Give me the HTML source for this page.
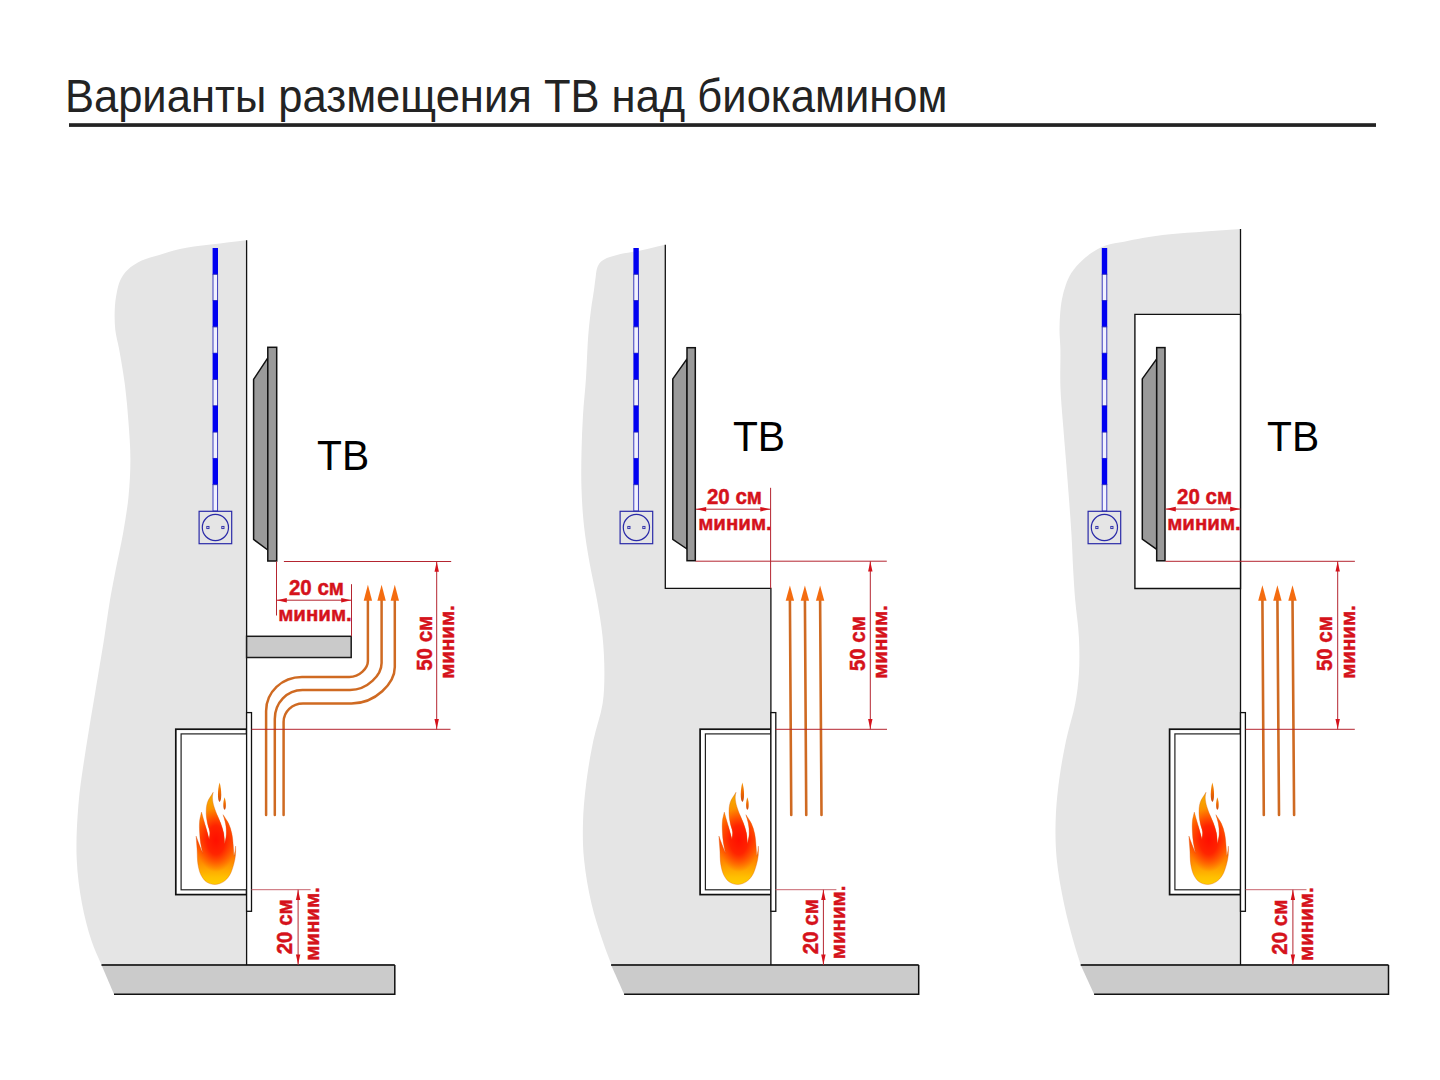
<!DOCTYPE html>
<html><head><meta charset="utf-8"><title>Варианты размещения ТВ над биокамином</title>
<style>html,body{margin:0;padding:0;background:#fff;width:1440px;height:1080px;overflow:hidden;font-family:"Liberation Sans",sans-serif;}svg{display:block}</style>
</head><body>
<svg width="1440" height="1080" viewBox="0 0 1440 1080">
<defs>
<linearGradient id="fg" gradientUnits="userSpaceOnUse" x1="0" y1="783" x2="0" y2="884.4">
<stop offset="0" stop-color="#e88a00"/>
<stop offset="0.089" stop-color="#f0a800"/>
<stop offset="0.2" stop-color="#f8a000"/>
<stop offset="0.32" stop-color="#ff8000"/>
<stop offset="0.44" stop-color="#ff6000"/>
<stop offset="0.56" stop-color="#ff4a00"/>
<stop offset="0.68" stop-color="#ff6a00"/>
<stop offset="0.78" stop-color="#ff8a00"/>
<stop offset="0.86" stop-color="#ffa800"/>
<stop offset="0.93" stop-color="#ffc000"/>
<stop offset="1" stop-color="#ffcc00"/>
</linearGradient>
<radialGradient id="fr" gradientUnits="userSpaceOnUse" cx="216" cy="840" r="20" gradientTransform="translate(216 840) scale(1 1.6) translate(-216 -840)">
<stop offset="0" stop-color="#ff1000" stop-opacity="1"/>
<stop offset="0.45" stop-color="#ff1800" stop-opacity="0.85"/>
<stop offset="1" stop-color="#ff3000" stop-opacity="0"/>
</radialGradient>
<linearGradient id="dg" x1="0" y1="0" x2="0" y2="1">
<stop offset="0" stop-color="#f29a10"/>
<stop offset="0.5" stop-color="#f06a00"/>
<stop offset="1" stop-color="#c84a10"/>
</linearGradient>
</defs>
<text transform="translate(64.9 111.7) scale(1 1.055)" font-family="Liberation Sans" font-size="43.55" fill="#232323">Варианты размещения ТВ над биокамином</text>
<rect x="69" y="123.2" width="1307" height="3.7" fill="#232323"/>
<path d="M246.6 240.3 C224.4 243.2 195.8 245.7 180 249 C171.05 250.87 165.91 252.99 159.3 255 C153.18 256.86 147.06 258.04 141.7 260.6 C136.61 263.04 131.47 266.28 127.8 269.8 C124.61 272.86 122.24 276.21 120.4 280 C118.49 283.92 117.62 288.42 116.7 293 C115.7 297.95 115.07 303.06 114.8 308.7 C114.48 315.25 114.54 323.18 115.3 330 C116.01 336.42 117.69 341.26 119 348.5 C120.85 358.7 123.42 373.13 125 385.5 C126.58 397.83 127.6 410.23 128.5 422.6 C129.4 434.93 130.4 447.26 130.4 459.6 C130.4 471.96 129.73 484.37 128.5 496.7 C127.27 509.07 125.16 521.39 123 533.7 C120.83 546.06 117.77 559.08 115.5 570.7 C113.48 581.03 111.75 589.65 110 600 C108.03 611.6 106.55 623.42 104.4 637 C101.76 653.66 98.27 674.08 95.2 692.6 C92.14 711.08 88.78 729.49 86 748 C83.22 766.52 80.05 785.13 78.5 803.7 C76.96 822.13 75.95 841.57 76.7 859 C77.37 874.72 79.36 889.59 82 903.7 C84.43 916.7 87.87 929.77 91.5 940.7 C94.51 949.77 98.17 956.9 101.5 965 L246.6 965 L246.6 240.3 Z" fill="#e5e5e5"/>
<path d="M665.3 244.8 C660 246 654.83 247.21 649.4 248.4 C643.71 249.65 637.5 250.98 631.9 252.1 C626.74 253.13 621.46 253.78 617 254.9 C613.28 255.84 609.82 256.73 606.9 258.1 C604.41 259.27 602.05 260.53 600.4 262.3 C598.85 263.97 597.88 266.06 597.1 268.3 C596.23 270.8 596.17 273.54 595.7 276.7 C595.1 280.75 594.6 285.64 593.9 290.6 C593.1 296.33 591.97 302.41 591.1 309.1 C590.08 317 589.09 325.27 588.3 335 C587.29 347.51 586.93 364.21 586 378 C585.14 390.8 583.75 402.66 583 415 C582.25 427.33 581.75 439.66 581.5 452 C581.25 464.33 581.08 476.67 581.5 489 C581.92 501.34 582.66 513.69 584 526 C585.35 538.36 587.44 550.69 589.6 563 C591.77 575.36 594.83 587.64 597 600 C599.16 612.31 601.37 624.64 602.6 637 C603.83 649.3 604.47 662.35 604.4 674 C604.34 684.45 604.2 693.33 602.6 703.7 C600.79 715.44 595.99 727.75 593.3 740.7 C590.38 754.74 587.73 770.86 586 785 C584.42 797.85 583.33 809.66 583 822 C582.67 834.32 582.75 846.13 584 859 C585.38 873.24 588.22 889.6 591.5 903.7 C594.53 916.72 598.94 929.71 602.6 940.7 C605.59 949.7 608.53 956.9 611.5 965 L770.9 965 L770.9 588.4 L665.3 588.4 L665.3 244.8 Z" fill="#e5e5e5"/>
<path d="M1240.5 229 C1228.67 229.83 1216.79 230.61 1205 231.5 C1193.29 232.38 1180.94 233.12 1170 234.3 C1160.29 235.34 1150.82 236.62 1142.6 238 C1135.81 239.14 1130.27 240.47 1124.1 241.7 C1117.93 242.93 1111.19 243.4 1105.6 245.4 C1100.49 247.23 1095.94 249.96 1091.7 252.8 C1087.64 255.52 1084 258.62 1080.6 262 C1077.2 265.39 1073.81 269.14 1071.3 273.1 C1068.89 276.9 1067.23 280.97 1065.7 285.2 C1064.11 289.58 1062.92 294.35 1062 299 C1061.09 303.62 1060.62 308.1 1060.2 313 C1059.74 318.38 1059.49 324.13 1059.5 330 C1059.51 336.3 1060.23 342.03 1060.4 349.6 C1060.64 360.01 1059.97 374.35 1060.4 386.7 C1060.83 399.05 1062.07 411.37 1063 423.7 C1063.93 436.04 1065.02 448.36 1066 460.7 C1066.98 473.06 1067.98 485.44 1068.9 497.8 C1069.82 510.14 1070.77 522.45 1071.5 534.8 C1072.23 547.15 1072.63 560.39 1073.3 571.9 C1073.88 581.92 1074.36 590 1075.2 600 C1076.16 611.49 1078.28 624.65 1078.9 637 C1079.51 649.32 1079.62 662.36 1078.9 674 C1078.25 684.46 1077.13 693.32 1075.2 703.7 C1073.02 715.42 1068.7 727.76 1066 740.7 C1063.07 754.75 1060.25 770.86 1058.5 785 C1056.91 797.85 1055.9 809.66 1055.6 822 C1055.3 834.33 1055.46 846.13 1056.7 859 C1058.07 873.24 1061.07 889.56 1064 903.7 C1066.69 916.68 1070.24 929.69 1073.3 940.7 C1075.79 949.68 1078.23 956.9 1080.7 965 L1240.5 965 L1240.5 229 Z" fill="#e5e5e5"/>
<path d="M101.5 965 L394.8 965 L394.8 994.2 L114 994.2 Z" fill="#cbcbcb"/>
<path d="M101.5 965 L394.8 965" stroke="#333" stroke-width="1.8"/>
<path d="M114 994.2 L394.8 994.2 L394.8 965" stroke="#111" stroke-width="1.5" fill="none"/>
<path d="M611.1 965 L918.7 965 L918.7 994.2 L624.1 994.2 Z" fill="#cbcbcb"/>
<path d="M611.1 965 L918.7 965" stroke="#333" stroke-width="1.8"/>
<path d="M624.1 994.2 L918.7 994.2 L918.7 965" stroke="#111" stroke-width="1.5" fill="none"/>
<path d="M1080.7 965 L1388.5 965 L1388.5 994.2 L1094.1 994.2 Z" fill="#cbcbcb"/>
<path d="M1080.7 965 L1388.5 965" stroke="#333" stroke-width="1.8"/>
<path d="M1094.1 994.2 L1388.5 994.2 L1388.5 965" stroke="#111" stroke-width="1.5" fill="none"/>
<path d="M246.6 240.3 L246.6 965" stroke="#111" stroke-width="1.3"/>
<path d="M665.3 244.8 L665.3 588.4 L770.9 588.4 L770.9 965" stroke="#111" stroke-width="1.3" fill="none"/>
<path d="M1240.5 229 L1240.5 965" stroke="#111" stroke-width="1.3"/>
<path d="M1240.5 314.4 L1134.9 314.4 L1134.9 588.5 L1240.5 588.5 Z" fill="#fff" stroke="#111" stroke-width="1.4"/>
<rect x="212.6" y="248" width="5.4" height="26.6" fill="#0000f0"/>
<rect x="213" y="274.3" width="4.6" height="26.3" fill="#f2f2ff" stroke="#2a2ab8" stroke-width="0.9"/>
<rect x="212.6" y="300.6" width="5.4" height="26.6" fill="#0000f0"/>
<rect x="213" y="326.9" width="4.6" height="26.3" fill="#f2f2ff" stroke="#2a2ab8" stroke-width="0.9"/>
<rect x="212.6" y="353.2" width="5.4" height="26.6" fill="#0000f0"/>
<rect x="213" y="379.5" width="4.6" height="26.3" fill="#f2f2ff" stroke="#2a2ab8" stroke-width="0.9"/>
<rect x="212.6" y="405.8" width="5.4" height="26.6" fill="#0000f0"/>
<rect x="213" y="432.1" width="4.6" height="26.3" fill="#f2f2ff" stroke="#2a2ab8" stroke-width="0.9"/>
<rect x="212.6" y="458.4" width="5.4" height="26.6" fill="#0000f0"/>
<rect x="213" y="484.7" width="4.6" height="26.3" fill="#f2f2ff" stroke="#2a2ab8" stroke-width="0.9"/>
<rect x="199.1" y="511.3" width="32.6" height="32.4" fill="none" stroke="#2a2aa8" stroke-width="1.2"/>
<circle cx="215.4" cy="527.5" r="13.1" fill="none" stroke="#2a2aa8" stroke-width="1.2"/>
<rect x="206.8" y="526.4" width="2.2" height="2.2" fill="none" stroke="#2a2aa8" stroke-width="0.9"/>
<rect x="221.8" y="526.4" width="2.2" height="2.2" fill="none" stroke="#2a2aa8" stroke-width="0.9"/>
<rect x="633.4" y="248" width="5.4" height="26.6" fill="#0000f0"/>
<rect x="633.8" y="274.3" width="4.6" height="26.3" fill="#f2f2ff" stroke="#2a2ab8" stroke-width="0.9"/>
<rect x="633.4" y="300.6" width="5.4" height="26.6" fill="#0000f0"/>
<rect x="633.8" y="326.9" width="4.6" height="26.3" fill="#f2f2ff" stroke="#2a2ab8" stroke-width="0.9"/>
<rect x="633.4" y="353.2" width="5.4" height="26.6" fill="#0000f0"/>
<rect x="633.8" y="379.5" width="4.6" height="26.3" fill="#f2f2ff" stroke="#2a2ab8" stroke-width="0.9"/>
<rect x="633.4" y="405.8" width="5.4" height="26.6" fill="#0000f0"/>
<rect x="633.8" y="432.1" width="4.6" height="26.3" fill="#f2f2ff" stroke="#2a2ab8" stroke-width="0.9"/>
<rect x="633.4" y="458.4" width="5.4" height="26.6" fill="#0000f0"/>
<rect x="633.8" y="484.7" width="4.6" height="26.3" fill="#f2f2ff" stroke="#2a2ab8" stroke-width="0.9"/>
<rect x="620.1" y="511.3" width="32.6" height="32.4" fill="none" stroke="#2a2aa8" stroke-width="1.2"/>
<circle cx="636.4" cy="527.5" r="13.1" fill="none" stroke="#2a2aa8" stroke-width="1.2"/>
<rect x="627.8" y="526.4" width="2.2" height="2.2" fill="none" stroke="#2a2aa8" stroke-width="0.9"/>
<rect x="642.8" y="526.4" width="2.2" height="2.2" fill="none" stroke="#2a2aa8" stroke-width="0.9"/>
<rect x="1101.8" y="248" width="5.4" height="26.6" fill="#0000f0"/>
<rect x="1102.2" y="274.3" width="4.6" height="26.3" fill="#f2f2ff" stroke="#2a2ab8" stroke-width="0.9"/>
<rect x="1101.8" y="300.6" width="5.4" height="26.6" fill="#0000f0"/>
<rect x="1102.2" y="326.9" width="4.6" height="26.3" fill="#f2f2ff" stroke="#2a2ab8" stroke-width="0.9"/>
<rect x="1101.8" y="353.2" width="5.4" height="26.6" fill="#0000f0"/>
<rect x="1102.2" y="379.5" width="4.6" height="26.3" fill="#f2f2ff" stroke="#2a2ab8" stroke-width="0.9"/>
<rect x="1101.8" y="405.8" width="5.4" height="26.6" fill="#0000f0"/>
<rect x="1102.2" y="432.1" width="4.6" height="26.3" fill="#f2f2ff" stroke="#2a2ab8" stroke-width="0.9"/>
<rect x="1101.8" y="458.4" width="5.4" height="26.6" fill="#0000f0"/>
<rect x="1102.2" y="484.7" width="4.6" height="26.3" fill="#f2f2ff" stroke="#2a2ab8" stroke-width="0.9"/>
<rect x="1088.1" y="511.3" width="32.6" height="32.4" fill="none" stroke="#2a2aa8" stroke-width="1.2"/>
<circle cx="1104.4" cy="527.5" r="13.1" fill="none" stroke="#2a2aa8" stroke-width="1.2"/>
<rect x="1095.8" y="526.4" width="2.2" height="2.2" fill="none" stroke="#2a2aa8" stroke-width="0.9"/>
<rect x="1110.8" y="526.4" width="2.2" height="2.2" fill="none" stroke="#2a2aa8" stroke-width="0.9"/>
<path d="M267.8 357.8 L253.6 379.4 L253.6 539.4 L267.8 550 Z" fill="#9a9a9a" stroke="#111" stroke-width="1.5" stroke-linejoin="round"/>
<rect x="267.8" y="347.3" width="8.9" height="213.7" fill="#9a9a9a" stroke="#111" stroke-width="1.5"/>
<path d="M687 358.9 L672.8 378.9 L672.8 539.4 L687 549 Z" fill="#9a9a9a" stroke="#111" stroke-width="1.5" stroke-linejoin="round"/>
<rect x="687" y="347.7" width="8.3" height="213" fill="#9a9a9a" stroke="#111" stroke-width="1.5"/>
<path d="M1156.7 358.9 L1142.3 378.9 L1142.3 539.2 L1156.7 549.4 Z" fill="#9a9a9a" stroke="#111" stroke-width="1.5" stroke-linejoin="round"/>
<rect x="1156.7" y="347.6" width="8.3" height="213.2" fill="#9a9a9a" stroke="#111" stroke-width="1.5"/>
<text transform="translate(317 469.9) scale(1 1.06)" font-family="Liberation Sans" font-size="40.8" fill="#000">ТВ</text>
<text transform="translate(732.9 450.8) scale(1 1.06)" font-family="Liberation Sans" font-size="40.8" fill="#000">ТВ</text>
<text transform="translate(1267.1 450.8) scale(1 1.06)" font-family="Liberation Sans" font-size="40.8" fill="#000">ТВ</text>
<rect x="246.6" y="636.3" width="104.6" height="21.2" fill="#cacaca" stroke="#1a1a1a" stroke-width="1.5"/>
<rect x="175.8" y="729.2" width="70.8" height="165.4" fill="#fff" stroke="#111" stroke-width="1.7"/>
<rect x="181.1" y="733.9" width="65.5" height="155.9" fill="#fff" stroke="#222" stroke-width="1.2"/>
<rect x="246.6" y="712.6" width="4.9" height="198.7" fill="#fff" stroke="#111" stroke-width="1.3"/>
<rect x="700.1" y="729.2" width="70.8" height="165.4" fill="#fff" stroke="#111" stroke-width="1.7"/>
<rect x="705.4" y="733.9" width="65.5" height="155.9" fill="#fff" stroke="#222" stroke-width="1.2"/>
<rect x="770.9" y="712.6" width="4.9" height="198.7" fill="#fff" stroke="#111" stroke-width="1.3"/>
<rect x="1169.6" y="729.2" width="70.9" height="165.4" fill="#fff" stroke="#111" stroke-width="1.7"/>
<rect x="1174.9" y="733.9" width="65.6" height="155.9" fill="#fff" stroke="#222" stroke-width="1.2"/>
<rect x="1240.5" y="712.6" width="4.9" height="198.7" fill="#fff" stroke="#111" stroke-width="1.3"/>
<g transform="translate(0 0)">
<path d="M196.1 836.1 C197.13 838.9 198.1 841.68 199.2 844.5 C200.33 847.41 201.6 850.37 202.8 853.3 C202.07 849.87 201.13 846.51 200.6 843 C200.06 839.41 199.77 835.67 199.6 832 C199.43 828.34 199.24 824.45 199.6 821 C199.93 817.86 200.87 815.07 201.5 812.1 C202.13 814.4 202.68 816.46 203.4 819 C204.3 822.14 205.52 826.05 206.5 829.5 C207.45 832.84 208.3 836.1 209.2 839.4 C209.4 836.93 210.03 834.51 209.8 832 C209.56 829.32 208.19 826.7 207.6 823.8 C206.95 820.6 206.25 817.07 206.2 813.6 C206.15 809.98 206.27 806.01 207.4 802.5 C208.56 798.9 211.27 795.7 213.2 792.3 C212.93 793.87 212.43 795.25 212.4 797 C212.36 799.21 212.79 801.9 213.4 804.5 C214.1 807.47 215.41 810.73 216.6 813.8 C217.8 816.9 219.44 819.83 220.6 823 C221.78 826.23 222.92 829.56 223.6 833 C224.3 836.52 224.33 840.27 224.7 843.9 C225.27 840.6 226.25 837.33 226.4 834 C226.55 830.63 226.17 827.08 225.6 823.8 C225.05 820.65 223.93 817.73 223.1 814.7 C224.93 817.67 227.15 820.46 228.6 823.6 C230.05 826.73 231.04 830.04 231.8 833.5 C232.6 837.15 232.85 841.2 233.2 845 C233.54 848.73 233.67 852.4 233.9 856.1 C234.3 854.4 234.82 852.69 235.1 851 C235.38 849.36 235.43 847.73 235.6 846.1 C235.57 849.07 235.79 852.04 235.5 855 C235.2 858 234.67 860.88 233.8 864 C232.8 867.57 231.52 872.11 229.6 875.2 C227.93 877.89 225.85 880.25 223.4 881.8 C220.98 883.33 217.8 884.47 215 884.5 C212.2 884.53 208.93 883.57 206.6 882 C204.25 880.42 202.42 877.76 201 875 C199.4 871.88 198.56 867.93 197.9 864 C197.17 859.65 197.4 854.66 197.1 850 C196.8 845.36 196.43 840.73 196.1 836.1 Z" fill="url(#fg)" stroke="#d85a10" stroke-opacity="0.55" stroke-width="0.6"/>
<path d="M196.1 836.1 C197.13 838.9 198.1 841.68 199.2 844.5 C200.33 847.41 201.6 850.37 202.8 853.3 C202.07 849.87 201.13 846.51 200.6 843 C200.06 839.41 199.77 835.67 199.6 832 C199.43 828.34 199.24 824.45 199.6 821 C199.93 817.86 200.87 815.07 201.5 812.1 C202.13 814.4 202.68 816.46 203.4 819 C204.3 822.14 205.52 826.05 206.5 829.5 C207.45 832.84 208.3 836.1 209.2 839.4 C209.4 836.93 210.03 834.51 209.8 832 C209.56 829.32 208.19 826.7 207.6 823.8 C206.95 820.6 206.25 817.07 206.2 813.6 C206.15 809.98 206.27 806.01 207.4 802.5 C208.56 798.9 211.27 795.7 213.2 792.3 C212.93 793.87 212.43 795.25 212.4 797 C212.36 799.21 212.79 801.9 213.4 804.5 C214.1 807.47 215.41 810.73 216.6 813.8 C217.8 816.9 219.44 819.83 220.6 823 C221.78 826.23 222.92 829.56 223.6 833 C224.3 836.52 224.33 840.27 224.7 843.9 C225.27 840.6 226.25 837.33 226.4 834 C226.55 830.63 226.17 827.08 225.6 823.8 C225.05 820.65 223.93 817.73 223.1 814.7 C224.93 817.67 227.15 820.46 228.6 823.6 C230.05 826.73 231.04 830.04 231.8 833.5 C232.6 837.15 232.85 841.2 233.2 845 C233.54 848.73 233.67 852.4 233.9 856.1 C234.3 854.4 234.82 852.69 235.1 851 C235.38 849.36 235.43 847.73 235.6 846.1 C235.57 849.07 235.79 852.04 235.5 855 C235.2 858 234.67 860.88 233.8 864 C232.8 867.57 231.52 872.11 229.6 875.2 C227.93 877.89 225.85 880.25 223.4 881.8 C220.98 883.33 217.8 884.47 215 884.5 C212.2 884.53 208.93 883.57 206.6 882 C204.25 880.42 202.42 877.76 201 875 C199.4 871.88 198.56 867.93 197.9 864 C197.17 859.65 197.4 854.66 197.1 850 C196.8 845.36 196.43 840.73 196.1 836.1 Z" fill="url(#fr)"/>
<path d="M219.6 782.6 C221.69 789.39 221.88 801.03 219.6 802 C217.32 801.03 217.51 789.39 219.6 782.6 Z" fill="url(#dg)"/>
<path d="M224.6 797.3 C226.25 801.67 226.4 809.17 224.6 809.8 C222.8 809.17 222.95 801.67 224.6 797.3 Z" fill="url(#dg)"/>
</g>
<g transform="translate(522.8 0)">
<path d="M196.1 836.1 C197.13 838.9 198.1 841.68 199.2 844.5 C200.33 847.41 201.6 850.37 202.8 853.3 C202.07 849.87 201.13 846.51 200.6 843 C200.06 839.41 199.77 835.67 199.6 832 C199.43 828.34 199.24 824.45 199.6 821 C199.93 817.86 200.87 815.07 201.5 812.1 C202.13 814.4 202.68 816.46 203.4 819 C204.3 822.14 205.52 826.05 206.5 829.5 C207.45 832.84 208.3 836.1 209.2 839.4 C209.4 836.93 210.03 834.51 209.8 832 C209.56 829.32 208.19 826.7 207.6 823.8 C206.95 820.6 206.25 817.07 206.2 813.6 C206.15 809.98 206.27 806.01 207.4 802.5 C208.56 798.9 211.27 795.7 213.2 792.3 C212.93 793.87 212.43 795.25 212.4 797 C212.36 799.21 212.79 801.9 213.4 804.5 C214.1 807.47 215.41 810.73 216.6 813.8 C217.8 816.9 219.44 819.83 220.6 823 C221.78 826.23 222.92 829.56 223.6 833 C224.3 836.52 224.33 840.27 224.7 843.9 C225.27 840.6 226.25 837.33 226.4 834 C226.55 830.63 226.17 827.08 225.6 823.8 C225.05 820.65 223.93 817.73 223.1 814.7 C224.93 817.67 227.15 820.46 228.6 823.6 C230.05 826.73 231.04 830.04 231.8 833.5 C232.6 837.15 232.85 841.2 233.2 845 C233.54 848.73 233.67 852.4 233.9 856.1 C234.3 854.4 234.82 852.69 235.1 851 C235.38 849.36 235.43 847.73 235.6 846.1 C235.57 849.07 235.79 852.04 235.5 855 C235.2 858 234.67 860.88 233.8 864 C232.8 867.57 231.52 872.11 229.6 875.2 C227.93 877.89 225.85 880.25 223.4 881.8 C220.98 883.33 217.8 884.47 215 884.5 C212.2 884.53 208.93 883.57 206.6 882 C204.25 880.42 202.42 877.76 201 875 C199.4 871.88 198.56 867.93 197.9 864 C197.17 859.65 197.4 854.66 197.1 850 C196.8 845.36 196.43 840.73 196.1 836.1 Z" fill="url(#fg)" stroke="#d85a10" stroke-opacity="0.55" stroke-width="0.6"/>
<path d="M196.1 836.1 C197.13 838.9 198.1 841.68 199.2 844.5 C200.33 847.41 201.6 850.37 202.8 853.3 C202.07 849.87 201.13 846.51 200.6 843 C200.06 839.41 199.77 835.67 199.6 832 C199.43 828.34 199.24 824.45 199.6 821 C199.93 817.86 200.87 815.07 201.5 812.1 C202.13 814.4 202.68 816.46 203.4 819 C204.3 822.14 205.52 826.05 206.5 829.5 C207.45 832.84 208.3 836.1 209.2 839.4 C209.4 836.93 210.03 834.51 209.8 832 C209.56 829.32 208.19 826.7 207.6 823.8 C206.95 820.6 206.25 817.07 206.2 813.6 C206.15 809.98 206.27 806.01 207.4 802.5 C208.56 798.9 211.27 795.7 213.2 792.3 C212.93 793.87 212.43 795.25 212.4 797 C212.36 799.21 212.79 801.9 213.4 804.5 C214.1 807.47 215.41 810.73 216.6 813.8 C217.8 816.9 219.44 819.83 220.6 823 C221.78 826.23 222.92 829.56 223.6 833 C224.3 836.52 224.33 840.27 224.7 843.9 C225.27 840.6 226.25 837.33 226.4 834 C226.55 830.63 226.17 827.08 225.6 823.8 C225.05 820.65 223.93 817.73 223.1 814.7 C224.93 817.67 227.15 820.46 228.6 823.6 C230.05 826.73 231.04 830.04 231.8 833.5 C232.6 837.15 232.85 841.2 233.2 845 C233.54 848.73 233.67 852.4 233.9 856.1 C234.3 854.4 234.82 852.69 235.1 851 C235.38 849.36 235.43 847.73 235.6 846.1 C235.57 849.07 235.79 852.04 235.5 855 C235.2 858 234.67 860.88 233.8 864 C232.8 867.57 231.52 872.11 229.6 875.2 C227.93 877.89 225.85 880.25 223.4 881.8 C220.98 883.33 217.8 884.47 215 884.5 C212.2 884.53 208.93 883.57 206.6 882 C204.25 880.42 202.42 877.76 201 875 C199.4 871.88 198.56 867.93 197.9 864 C197.17 859.65 197.4 854.66 197.1 850 C196.8 845.36 196.43 840.73 196.1 836.1 Z" fill="url(#fr)"/>
<path d="M219.6 782.6 C221.69 789.39 221.88 801.03 219.6 802 C217.32 801.03 217.51 789.39 219.6 782.6 Z" fill="url(#dg)"/>
<path d="M224.6 797.3 C226.25 801.67 226.4 809.17 224.6 809.8 C222.8 809.17 222.95 801.67 224.6 797.3 Z" fill="url(#dg)"/>
</g>
<g transform="translate(992.8 0)">
<path d="M196.1 836.1 C197.13 838.9 198.1 841.68 199.2 844.5 C200.33 847.41 201.6 850.37 202.8 853.3 C202.07 849.87 201.13 846.51 200.6 843 C200.06 839.41 199.77 835.67 199.6 832 C199.43 828.34 199.24 824.45 199.6 821 C199.93 817.86 200.87 815.07 201.5 812.1 C202.13 814.4 202.68 816.46 203.4 819 C204.3 822.14 205.52 826.05 206.5 829.5 C207.45 832.84 208.3 836.1 209.2 839.4 C209.4 836.93 210.03 834.51 209.8 832 C209.56 829.32 208.19 826.7 207.6 823.8 C206.95 820.6 206.25 817.07 206.2 813.6 C206.15 809.98 206.27 806.01 207.4 802.5 C208.56 798.9 211.27 795.7 213.2 792.3 C212.93 793.87 212.43 795.25 212.4 797 C212.36 799.21 212.79 801.9 213.4 804.5 C214.1 807.47 215.41 810.73 216.6 813.8 C217.8 816.9 219.44 819.83 220.6 823 C221.78 826.23 222.92 829.56 223.6 833 C224.3 836.52 224.33 840.27 224.7 843.9 C225.27 840.6 226.25 837.33 226.4 834 C226.55 830.63 226.17 827.08 225.6 823.8 C225.05 820.65 223.93 817.73 223.1 814.7 C224.93 817.67 227.15 820.46 228.6 823.6 C230.05 826.73 231.04 830.04 231.8 833.5 C232.6 837.15 232.85 841.2 233.2 845 C233.54 848.73 233.67 852.4 233.9 856.1 C234.3 854.4 234.82 852.69 235.1 851 C235.38 849.36 235.43 847.73 235.6 846.1 C235.57 849.07 235.79 852.04 235.5 855 C235.2 858 234.67 860.88 233.8 864 C232.8 867.57 231.52 872.11 229.6 875.2 C227.93 877.89 225.85 880.25 223.4 881.8 C220.98 883.33 217.8 884.47 215 884.5 C212.2 884.53 208.93 883.57 206.6 882 C204.25 880.42 202.42 877.76 201 875 C199.4 871.88 198.56 867.93 197.9 864 C197.17 859.65 197.4 854.66 197.1 850 C196.8 845.36 196.43 840.73 196.1 836.1 Z" fill="url(#fg)" stroke="#d85a10" stroke-opacity="0.55" stroke-width="0.6"/>
<path d="M196.1 836.1 C197.13 838.9 198.1 841.68 199.2 844.5 C200.33 847.41 201.6 850.37 202.8 853.3 C202.07 849.87 201.13 846.51 200.6 843 C200.06 839.41 199.77 835.67 199.6 832 C199.43 828.34 199.24 824.45 199.6 821 C199.93 817.86 200.87 815.07 201.5 812.1 C202.13 814.4 202.68 816.46 203.4 819 C204.3 822.14 205.52 826.05 206.5 829.5 C207.45 832.84 208.3 836.1 209.2 839.4 C209.4 836.93 210.03 834.51 209.8 832 C209.56 829.32 208.19 826.7 207.6 823.8 C206.95 820.6 206.25 817.07 206.2 813.6 C206.15 809.98 206.27 806.01 207.4 802.5 C208.56 798.9 211.27 795.7 213.2 792.3 C212.93 793.87 212.43 795.25 212.4 797 C212.36 799.21 212.79 801.9 213.4 804.5 C214.1 807.47 215.41 810.73 216.6 813.8 C217.8 816.9 219.44 819.83 220.6 823 C221.78 826.23 222.92 829.56 223.6 833 C224.3 836.52 224.33 840.27 224.7 843.9 C225.27 840.6 226.25 837.33 226.4 834 C226.55 830.63 226.17 827.08 225.6 823.8 C225.05 820.65 223.93 817.73 223.1 814.7 C224.93 817.67 227.15 820.46 228.6 823.6 C230.05 826.73 231.04 830.04 231.8 833.5 C232.6 837.15 232.85 841.2 233.2 845 C233.54 848.73 233.67 852.4 233.9 856.1 C234.3 854.4 234.82 852.69 235.1 851 C235.38 849.36 235.43 847.73 235.6 846.1 C235.57 849.07 235.79 852.04 235.5 855 C235.2 858 234.67 860.88 233.8 864 C232.8 867.57 231.52 872.11 229.6 875.2 C227.93 877.89 225.85 880.25 223.4 881.8 C220.98 883.33 217.8 884.47 215 884.5 C212.2 884.53 208.93 883.57 206.6 882 C204.25 880.42 202.42 877.76 201 875 C199.4 871.88 198.56 867.93 197.9 864 C197.17 859.65 197.4 854.66 197.1 850 C196.8 845.36 196.43 840.73 196.1 836.1 Z" fill="url(#fr)"/>
<path d="M219.6 782.6 C221.69 789.39 221.88 801.03 219.6 802 C217.32 801.03 217.51 789.39 219.6 782.6 Z" fill="url(#dg)"/>
<path d="M224.6 797.3 C226.25 801.67 226.4 809.17 224.6 809.8 C222.8 809.17 222.95 801.67 224.6 797.3 Z" fill="url(#dg)"/>
</g>
<g fill="none" stroke="#cf6a22" stroke-width="2.5" stroke-linecap="round">
<path d="M266.1 815 L266.1 711 C266.1 691.96 281.9 677 302 677 L349.3 677 C359.72 677 367.9 668.04 367.9 661 L367.9 598"/>
<path d="M274.8 815 L274.8 719 C274.8 702.76 286.99 690 302.5 690 L350 690 C367.7 690 381.6 674.88 381.6 663 L381.6 598"/>
<path d="M283.6 815 L283.6 722 C283.6 711.64 292.14 703.5 303 703.5 L351.5 703.5 C375.75 703.5 394.8 683.06 394.8 667 L394.8 598"/>
</g>
<path d="M367.9 584.8 L372.1 600.8 L363.7 600.8 Z" fill="#f46c10"/>
<path d="M381.6 584.8 L385.8 600.8 L377.4 600.8 Z" fill="#f46c10"/>
<path d="M394.8 584.8 L399 600.8 L390.6 600.8 Z" fill="#f46c10"/>
<g fill="none" stroke="#cf6a22" stroke-width="2.6" stroke-linecap="round">
<path d="M791.25 815 L789.9 598"/>
<path d="M806.25 815 L804.9 598"/>
<path d="M821.5 815 L820.1 598"/>
<path d="M1263.8 815 L1262.4 598"/>
<path d="M1279 815 L1277.4 598"/>
<path d="M1294.1 815 L1292.5 598"/>
</g>
<path d="M789.9 585.5 L794.1 600.8 L785.7 600.8 Z" fill="#f46c10"/>
<path d="M804.9 585.5 L809.1 600.8 L800.7 600.8 Z" fill="#f46c10"/>
<path d="M820.1 585.5 L824.3 600.8 L815.9 600.8 Z" fill="#f46c10"/>
<path d="M1262.4 585.2 L1266.6 600.8 L1258.2 600.8 Z" fill="#f46c10"/>
<path d="M1277.4 585.2 L1281.6 600.8 L1273.2 600.8 Z" fill="#f46c10"/>
<path d="M1292.5 585.2 L1296.7 600.8 L1288.3 600.8 Z" fill="#f46c10"/>
<path d="M276.5 561.4 L276.5 615.5" stroke="#b42530" stroke-width="1"/>
<path d="M351.5 584.2 L351.5 636.3" stroke="#b42530" stroke-width="1"/>
<path d="M276.5 600.2 L351.5 600.2" stroke="#b42530" stroke-width="1"/>
<path d="M276.8 600.2 L286.8 597.9 L286.8 602.5 Z" fill="#d5121b"/>
<path d="M351.2 600.2 L341.2 597.9 L341.2 602.5 Z" fill="#d5121b"/>
<path d="M283.9 561.5 L451.2 561.5" stroke="#b42530" stroke-width="1"/>
<path d="M251.5 729.3 L450.5 729.3" stroke="#b42530" stroke-width="1"/>
<path d="M436.7 561.5 L436.7 729.3" stroke="#b42530" stroke-width="1"/>
<path d="M436.7 561.8 L434.5 571.8 L438.9 571.8 Z" fill="#d5121b"/>
<path d="M436.7 729 L434.5 719 L438.9 719 Z" fill="#d5121b"/>
<path d="M251.5 889.7 L310.6 889.7" stroke="#c8646e" stroke-width="1"/>
<path d="M298.1 889.7 L298.1 965" stroke="#b42530" stroke-width="1"/>
<path d="M298.1 890 L295.9 900 L300.3 900 Z" fill="#d5121b"/>
<path d="M298.1 964.5 L295.9 954.5 L300.3 954.5 Z" fill="#d5121b"/>
<path d="M770.6 487.8 L770.6 588.4" stroke="#b42530" stroke-width="1"/>
<path d="M695.9 509.2 L770.6 509.2" stroke="#b42530" stroke-width="1"/>
<path d="M696.2 509.2 L706.2 506.9 L706.2 511.5 Z" fill="#d5121b"/>
<path d="M770.3 509.2 L760.3 506.9 L760.3 511.5 Z" fill="#d5121b"/>
<path d="M695.6 561.2 L886.8 561.2" stroke="#b42530" stroke-width="1"/>
<path d="M775.5 729.3 L887 729.3" stroke="#b42530" stroke-width="1"/>
<path d="M870.3 561.2 L870.3 729.3" stroke="#b42530" stroke-width="1"/>
<path d="M870.3 561.5 L868.1 571.5 L872.5 571.5 Z" fill="#d5121b"/>
<path d="M870.3 729 L868.1 719 L872.5 719 Z" fill="#d5121b"/>
<path d="M775.5 889.7 L836.4 889.7" stroke="#c8646e" stroke-width="1"/>
<path d="M823.4 889.7 L823.4 965" stroke="#b42530" stroke-width="1"/>
<path d="M823.4 890 L821.2 900 L825.6 900 Z" fill="#d5121b"/>
<path d="M823.4 964.5 L821.2 954.5 L825.6 954.5 Z" fill="#d5121b"/>
<path d="M1165.5 509.1 L1240.5 509.1" stroke="#b42530" stroke-width="1"/>
<path d="M1165.8 509.1 L1175.8 506.8 L1175.8 511.4 Z" fill="#d5121b"/>
<path d="M1240.2 509.1 L1230.2 506.8 L1230.2 511.4 Z" fill="#d5121b"/>
<path d="M1165.5 561.3 L1354.9 561.3" stroke="#b42530" stroke-width="1"/>
<path d="M1245.6 729.3 L1354.8 729.3" stroke="#b42530" stroke-width="1"/>
<path d="M1337.7 561.3 L1337.7 729.3" stroke="#b42530" stroke-width="1"/>
<path d="M1337.7 561.6 L1335.5 571.6 L1339.9 571.6 Z" fill="#d5121b"/>
<path d="M1337.7 729 L1335.5 719 L1339.9 719 Z" fill="#d5121b"/>
<path d="M1245.6 889.7 L1306.5 889.7" stroke="#c8646e" stroke-width="1"/>
<path d="M1292.9 889.7 L1292.9 965" stroke="#b42530" stroke-width="1"/>
<path d="M1292.9 890 L1290.7 900 L1295.1 900 Z" fill="#d5121b"/>
<path d="M1292.9 964.5 L1290.7 954.5 L1295.1 954.5 Z" fill="#d5121b"/>
<text transform="translate(316.5 594.7) scale(1 1.07)" x="0" y="0" text-anchor="middle" font-family="Liberation Sans" font-weight="bold" font-size="20.5" fill="#d5121b" stroke="#d5121b" stroke-width="0.45">20 см</text>
<text transform="translate(315 620.7) scale(1 1)" x="0" y="0" text-anchor="middle" font-family="Liberation Sans" font-weight="bold" font-size="20.5" fill="#d5121b" stroke="#d5121b" stroke-width="0.45">миним.</text>
<text transform="translate(734.5 503.8) scale(1 1.07)" x="0" y="0" text-anchor="middle" font-family="Liberation Sans" font-weight="bold" font-size="20.5" fill="#d5121b" stroke="#d5121b" stroke-width="0.45">20 см</text>
<text transform="translate(735 529.5) scale(1 1)" x="0" y="0" text-anchor="middle" font-family="Liberation Sans" font-weight="bold" font-size="20.5" fill="#d5121b" stroke="#d5121b" stroke-width="0.45">миним.</text>
<text transform="translate(1204.6 503.7) scale(1 1.07)" x="0" y="0" text-anchor="middle" font-family="Liberation Sans" font-weight="bold" font-size="20.5" fill="#d5121b" stroke="#d5121b" stroke-width="0.45">20 см</text>
<text transform="translate(1204 529.6) scale(1 1)" x="0" y="0" text-anchor="middle" font-family="Liberation Sans" font-weight="bold" font-size="20.5" fill="#d5121b" stroke="#d5121b" stroke-width="0.45">миним.</text>
<text transform="translate(432.1 643.3) rotate(-90) scale(1 1.06)" x="0" y="0" text-anchor="middle" font-family="Liberation Sans" font-weight="bold" font-size="20.5" fill="#d5121b" stroke="#d5121b" stroke-width="0.45">50 см</text>
<text transform="translate(454.3 642) rotate(-90) scale(1 1)" x="0" y="0" text-anchor="middle" font-family="Liberation Sans" font-weight="bold" font-size="20.5" fill="#d5121b" stroke="#d5121b" stroke-width="0.45">миним.</text>
<text transform="translate(864.8 643.6) rotate(-90) scale(1 1.06)" x="0" y="0" text-anchor="middle" font-family="Liberation Sans" font-weight="bold" font-size="20.5" fill="#d5121b" stroke="#d5121b" stroke-width="0.45">50 см</text>
<text transform="translate(887 642) rotate(-90) scale(1 1)" x="0" y="0" text-anchor="middle" font-family="Liberation Sans" font-weight="bold" font-size="20.5" fill="#d5121b" stroke="#d5121b" stroke-width="0.45">миним.</text>
<text transform="translate(1332.3 643.6) rotate(-90) scale(1 1.06)" x="0" y="0" text-anchor="middle" font-family="Liberation Sans" font-weight="bold" font-size="20.5" fill="#d5121b" stroke="#d5121b" stroke-width="0.45">50 см</text>
<text transform="translate(1354.5 642) rotate(-90) scale(1 1)" x="0" y="0" text-anchor="middle" font-family="Liberation Sans" font-weight="bold" font-size="20.5" fill="#d5121b" stroke="#d5121b" stroke-width="0.45">миним.</text>
<text transform="translate(291.7 926.8) rotate(-90) scale(1 1.07)" x="0" y="0" text-anchor="middle" font-family="Liberation Sans" font-weight="bold" font-size="20.5" fill="#d5121b" stroke="#d5121b" stroke-width="0.45">20 см</text>
<text transform="translate(318.5 924) rotate(-90) scale(1 1)" x="0" y="0" text-anchor="middle" font-family="Liberation Sans" font-weight="bold" font-size="20.5" fill="#d5121b" stroke="#d5121b" stroke-width="0.45">миним.</text>
<text transform="translate(818.2 926.7) rotate(-90) scale(1 1.07)" x="0" y="0" text-anchor="middle" font-family="Liberation Sans" font-weight="bold" font-size="20.5" fill="#d5121b" stroke="#d5121b" stroke-width="0.45">20 см</text>
<text transform="translate(844.8 922.4) rotate(-90) scale(1 1)" x="0" y="0" text-anchor="middle" font-family="Liberation Sans" font-weight="bold" font-size="20.5" fill="#d5121b" stroke="#d5121b" stroke-width="0.45">миним.</text>
<text transform="translate(1286.9 927.2) rotate(-90) scale(1 1.07)" x="0" y="0" text-anchor="middle" font-family="Liberation Sans" font-weight="bold" font-size="20.5" fill="#d5121b" stroke="#d5121b" stroke-width="0.45">20 см</text>
<text transform="translate(1313.3 924.2) rotate(-90) scale(1 1)" x="0" y="0" text-anchor="middle" font-family="Liberation Sans" font-weight="bold" font-size="20.5" fill="#d5121b" stroke="#d5121b" stroke-width="0.45">миним.</text>
</svg>
</body></html>
